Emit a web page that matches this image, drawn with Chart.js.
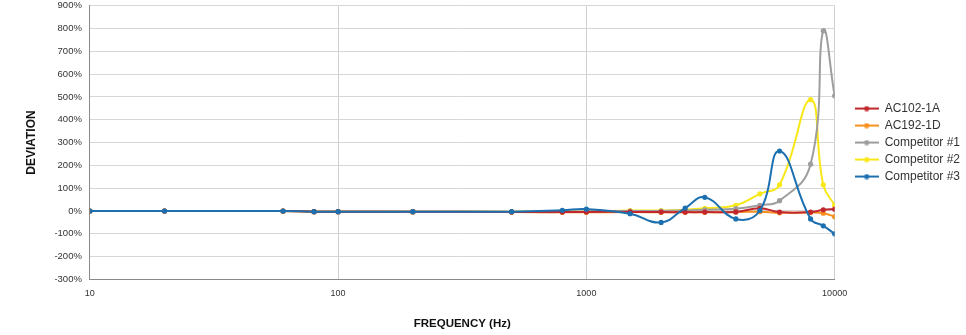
<!DOCTYPE html>
<html>
<head>
    <script src="https://cdn.jsdelivr.net/npm/chart.js@4.4.0/dist/chart.umd.min.js"></script>
    <style>
        body { margin: 0; background: #fff; overflow: hidden; }
        #wrap { width: 966px; height: 343px; margin-top: -8px; }
    </style>
</head>
<body>
<div id="wrap"><canvas id="dev-chart"></canvas></div>
<script>
    // frequencies (Hz) and deviation (%) per product
    const freqs = [10, 20, 60, 80, 100, 200, 500, 800, 1000, 1500, 2000, 2500, 3000, 4000, 5000, 6000, 8000, 9000, 10000];
    const ac102 = [0, 0, 0, -3, -3, -3, -4, -4, -4, -4, -5, -5, -5, -4, 12, -5, -5, 5, 8];
    const ac192 = [0, 0, 0, -3, -3, -4, -5, -6, -6, -5, -6, -6, -6, -5, -3, -8, -7, -10, -25];
    const comp1 = [0, 0, 0, -3, -3, -3, -4, -5, -2, 0, 0, 2, 5, 10, 25, 45, 205, 790, 505];
    const comp2 = [0, 0, 0, -3, -3, -3, -3, -2, -3, 2, 2, 5, 12, 25, 75, 115, 488, 115, 25];
    const comp3 = [0, 0, 0, -3, -3, -3, -3, 3, 8, -12, -50, 13, 60, -35, 2, 263, -35, -65, -100];
    const xTicks = [10, 100, 1000, 10000];

    const names = ['AC102-1A', 'AC192-1D', 'Competitor #1', 'Competitor #2', 'Competitor #3'];
    const series = [ac102, ac192, comp1, comp2, comp3];
    const colors = ['#c1272d', '#f7901e', '#9d9d9d', '#f9e718', '#1c70b0'];
    const drawOrder = [1, 2, 3, 4, 0];

    const FONT = '"Liberation Sans", Arial, sans-serif';

    // little line-with-dot swatch for the legend
    function swatch(color) {
        const c = document.createElement('canvas');
        c.width = 24; c.height = 6;
        const g = c.getContext('2d');
        g.strokeStyle = color; g.lineWidth = 2;
        g.beginPath(); g.moveTo(0, 3); g.lineTo(24, 3); g.stroke();
        g.fillStyle = color;
        g.beginPath(); g.arc(12, 3, 2.6, 0, Math.PI * 2); g.fill();
        return c;
    }

    const datasets = series.map((vals, i) => ({
        label: names[i],
        data: vals.map((v, k) => ({ x: freqs[k], y: v })),
        borderColor: colors[i],
        backgroundColor: colors[i],
        borderWidth: 2,
        pointRadius: 2.6,
        pointBorderWidth: 0,
        pointHoverRadius: 3,
        tension: 0.45,
        order: drawOrder[i]
    }));

    new Chart(document.getElementById('dev-chart'), {
        type: 'line',
        data: { datasets: datasets },
        options: {
            responsive: true,
            maintainAspectRatio: false,
            animation: false,
            layout: { autoPadding: false, padding: { left: 24, right: -4, top: 5, bottom: 4 } },
            plugins: {
                tooltip: { enabled: false },
                legend: {
                    position: 'right',
                    fullSize: false,
                    labels: {
                        font: { family: FONT, size: 12 },
                        color: '#333',
                        usePointStyle: true,
                        pointStyleWidth: 24,
                        padding: 5,
                        sort: (a, b) => a.datasetIndex - b.datasetIndex,
                        generateLabels: function (chart) {
                            return chart.data.datasets.map((ds, i) => ({
                                text: ds.label,
                                datasetIndex: i,
                                pointStyle: swatch(ds.borderColor),
                                fillStyle: ds.borderColor,
                                strokeStyle: ds.borderColor,
                                lineWidth: 0,
                                fontColor: '#333'
                            }));
                        }
                    }
                }
            },
            scales: {
                x: {
                    type: 'logarithmic',
                    min: 10,
                    max: 10000,
                    afterBuildTicks: function (axis) {
                        axis.ticks = xTicks.map(v => ({ value: v }));
                    },
                    ticks: {
                        callback: v => String(v),
                        font: { family: FONT, size: 9 },
                        color: '#333',
                        padding: 9,
                        maxRotation: 0
                    },
                    grid: { color: '#cfcfcf', drawTicks: false },
                    border: { color: '#8a8a8a', width: 1 },
                    title: {
                        display: true,
                        text: 'FREQUENCY (Hz)',
                        font: { family: FONT, size: 11.5, weight: 'bold' },
                        color: '#111',
                        padding: { top: 9, bottom: 0 }
                    }
                },
                y: {
                    min: -300,
                    max: 900,
                    ticks: {
                        stepSize: 100,
                        callback: v => v + '%',
                        font: { family: FONT, size: 9.5 },
                        color: '#333',
                        padding: 8
                    },
                    grid: { color: '#d6d6d6', drawTicks: false },
                    border: { color: '#8a8a8a', width: 1 },
                    title: {
                        display: true,
                        text: 'DEVIATION',
                        font: { family: FONT, size: 12, weight: 'bold' },
                        color: '#111',
                        padding: { top: 0, bottom: 8 }
                    }
                },
                // empty axis on the right, only keeps a gap before the legend
                gap: {
                    type: 'linear',
                    position: 'right',
                    display: true,
                    grid: { display: false, drawTicks: false },
                    border: { display: false },
                    ticks: { display: false },
                    afterFit: function (axis) { axis.width = 15; }
                }
            }
        }
    });
</script>
</body>
</html>
